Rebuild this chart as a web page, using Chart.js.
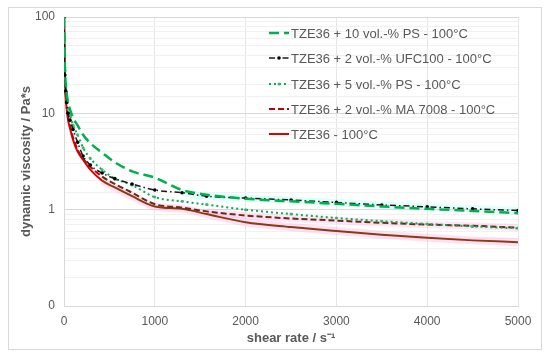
<!DOCTYPE html>
<html>
<head>
<meta charset="utf-8">
<script src="https://cdn.jsdelivr.net/npm/chart.js@4"></script>
<style>
  body { margin: 0; background: #fff; }
</style>
</head>
<body>
<canvas id="chart" width="550" height="360"></canvas>
<script>
// data
const shearRate = [1, 10, 20, 30, 45, 66, 100, 150, 210, 290, 420, 560, 750, 1000, 1300, 1570, 2000, 2500, 3000, 3500, 4000, 4500, 5000];
const ps10   = [100, 30, 20, 16, 13, 11, 9, 7.5, 6.0, 4.9, 3.9, 3.1, 2.5, 2.15, 1.6, 1.43, 1.3, 1.22, 1.15, 1.08, 1.02, 0.97, 0.92];
const ufc100 = [100, 25, 17, 13, 10, 8.5, 6.8, 5.0, 3.6, 2.9, 2.4, 2.1, 1.85, 1.6, 1.5, 1.38, 1.32, 1.26, 1.19, 1.12, 1.07, 1.02, 0.98];
const ps5    = [100, 28, 18, 14, 11, 9.5, 7.5, 6.0, 4.4, 3.4, 2.6, 2.1, 1.8, 1.35, 1.22, 1.13, 1.0, 0.9, 0.82, 0.76, 0.71, 0.67, 0.64];
const ma7008 = [100, 23, 15, 11.5, 9, 7.5, 5.6, 4.2, 3.4, 2.8, 2.2, 1.85, 1.5, 1.14, 1.05, 0.96, 0.87, 0.81, 0.77, 0.73, 0.7, 0.68, 0.65];
const tze36  = [100, 22, 14, 11, 8.5, 7, 5.3, 4.0, 3.3, 2.6, 2.0, 1.7, 1.38, 1.08, 1.02, 0.9, 0.74, 0.66, 0.6, 0.55, 0.51, 0.48, 0.46];

const seriesLabels = [
    'TZE36 + 10 vol.-% PS - 100°C',
    'TZE36 + 2 vol.-% UFC100 - 100°C',
    'TZE36 + 5 vol.-% PS - 100°C',
    'TZE36 + 2 vol.-% MA 7008 - 100°C',
    'TZE36 - 100°C'
];
const xTicks = [0, 1000, 2000, 3000, 4000, 5000];
const yTickValues = [0.1, 1, 10, 100];
const yTickLabels = ['0', '1', '10', '100'];

const grey = '#595959';
const font = '"Liberation Sans", Arial, sans-serif';

function pts(ys, fromX) {
    const out = [];
    shearRate.forEach((x, i) => { if (x >= (fromX || 0)) out.push({ x: x, y: ys[i] }); });
    return out;
}

// later part of the red curves is drawn brownish in the original
function laterColor(early, late) {
    return ctx => ctx.p0.parsed.x >= 420 ? late : early;
}

// white background + thin frame
const framePlugin = {
    id: 'frame',
    beforeDraw(chart) {
        const c = chart.ctx;
        c.save();
        c.fillStyle = '#fff';
        c.fillRect(0, 0, chart.width, chart.height);
        c.strokeStyle = '#d9d9d9';
        c.lineWidth = 1;
        c.strokeRect(8.5, 7.5, 533, 342);
        c.restore();
    }
};

// legend drawn inside the plot, top right
const legendPlugin = {
    id: 'innerLegend',
    afterDraw(chart) {
        const c = chart.ctx;
        const rowY = [33, 58, 84, 109, 134];
        c.save();
        c.font = '13px ' + font;
        c.textBaseline = 'middle';
        chart.data.datasets.forEach((ds, i) => {
            if (!ds.label) return;
            const y = rowY[i];
            c.strokeStyle = ds.borderColor;
            c.lineWidth = ds.borderWidth;
            c.setLineDash(ds.borderDash || []);
            c.beginPath();
            c.moveTo(269, y);
            c.lineTo(289, y);
            c.stroke();
            c.setLineDash([]);
            if (ds.pointRadius) {
                c.fillStyle = ds.pointBackgroundColor;
                c.beginPath();
                c.arc(279, y, ds.pointRadius, 0, Math.PI * 2);
                c.fill();
            }
            c.fillStyle = grey;
            c.fillText(ds.label, 291, y + 1);
        });
        c.restore();
    }
};

new Chart(document.getElementById('chart'), {
    type: 'line',
    data: {
        datasets: [
            {
                label: seriesLabels[0],
                data: pts(ps10),
                borderColor: '#00B050',
                borderWidth: 2.5,
                borderDash: [10, 5],
                pointRadius: 0
            },
            {
                label: seriesLabels[1],
                data: pts(ufc100),
                borderColor: '#1a1a1a',
                borderWidth: 1.5,
                borderDash: [6, 3, 1.5, 3],
                pointRadius: 1.8,
                pointBackgroundColor: '#000',
                pointBorderWidth: 0
            },
            {
                label: seriesLabels[2],
                data: pts(ps5),
                borderColor: '#00B050',
                borderWidth: 2,
                borderDash: [2, 3],
                pointRadius: 1.5,
                pointBackgroundColor: '#3cb371',
                pointBorderWidth: 0
            },
            {
                label: seriesLabels[3],
                data: pts(ma7008),
                borderColor: '#C00000',
                borderWidth: 2,
                borderDash: [6, 3],
                pointRadius: 0,
                segment: { borderColor: laterColor('#C00000', '#6b2a12') }
            },
            {
                label: seriesLabels[4],
                data: pts(tze36),
                borderColor: '#E00000',
                borderWidth: 2,
                pointRadius: 0,
                segment: { borderColor: laterColor('#E00000', '#8B3A12') }
            },
            // faint error bands behind the curves
            {
                data: pts(ufc100, 1300),
                borderColor: 'rgba(170, 255, 240, 0.35)',
                borderWidth: 7,
                pointRadius: 0
            },
            {
                data: pts(ma7008, 1570),
                borderColor: 'rgba(255, 170, 230, 0.3)',
                borderWidth: 7,
                pointRadius: 0
            },
            {
                data: pts(tze36, 420),
                borderColor: 'rgba(255, 170, 230, 0.35)',
                borderWidth: 8,
                pointRadius: 0
            }
        ]
    },
    options: {
        responsive: false,
        animation: false,
        cubicInterpolationMode: 'monotone',
        layout: { padding: { left: 10, top: 17, right: 32, bottom: 10 } },
        plugins: {
            legend: { display: false },
            tooltip: { enabled: false }
        },
        scales: {
            x: {
                type: 'linear',
                min: 0,
                max: 5000,
                afterFit: s => { s.height = 44; },
                afterBuildTicks: s => { s.ticks = xTicks.map(v => ({ value: v })); },
                grid: { color: '#e6e6e6', drawTicks: false },
                border: { color: '#d9d9d9' },
                ticks: {
                    color: grey,
                    padding: 8,
                    font: { family: font, size: 12 },
                    callback: v => String(v)
                },
                title: {
                    display: true,
                    text: 'shear rate / s⁻¹',
                    color: grey,
                    padding: { top: 2, bottom: 4 },
                    font: { family: font, size: 13, weight: 'bold' }
                }
            },
            y: {
                type: 'logarithmic',
                min: 0.1,
                max: 100,
                afterFit: s => { s.width = 54; },
                grid: {
                    drawTicks: false,
                    color: ctx => yTickValues.includes(ctx.tick.value) ? '#d9d9d9' : '#f1f1f1'
                },
                border: { color: '#d9d9d9' },
                ticks: {
                    autoSkip: false,
                    color: grey,
                    padding: 9,
                    font: { family: font, size: 12 },
                    callback: v => {
                        const i = yTickValues.findIndex(t => Math.abs(t - v) < 1e-9);
                        return i >= 0 ? yTickLabels[i] : '';
                    }
                },
                title: {
                    display: true,
                    text: 'dynamic viscosity / Pa*s',
                    color: grey,
                    padding: { top: 9, bottom: 2 },
                    font: { family: font, size: 13, weight: 'bold' }
                }
            }
        }
    },
    plugins: [framePlugin, legendPlugin]
});
</script>
</body>
</html>
